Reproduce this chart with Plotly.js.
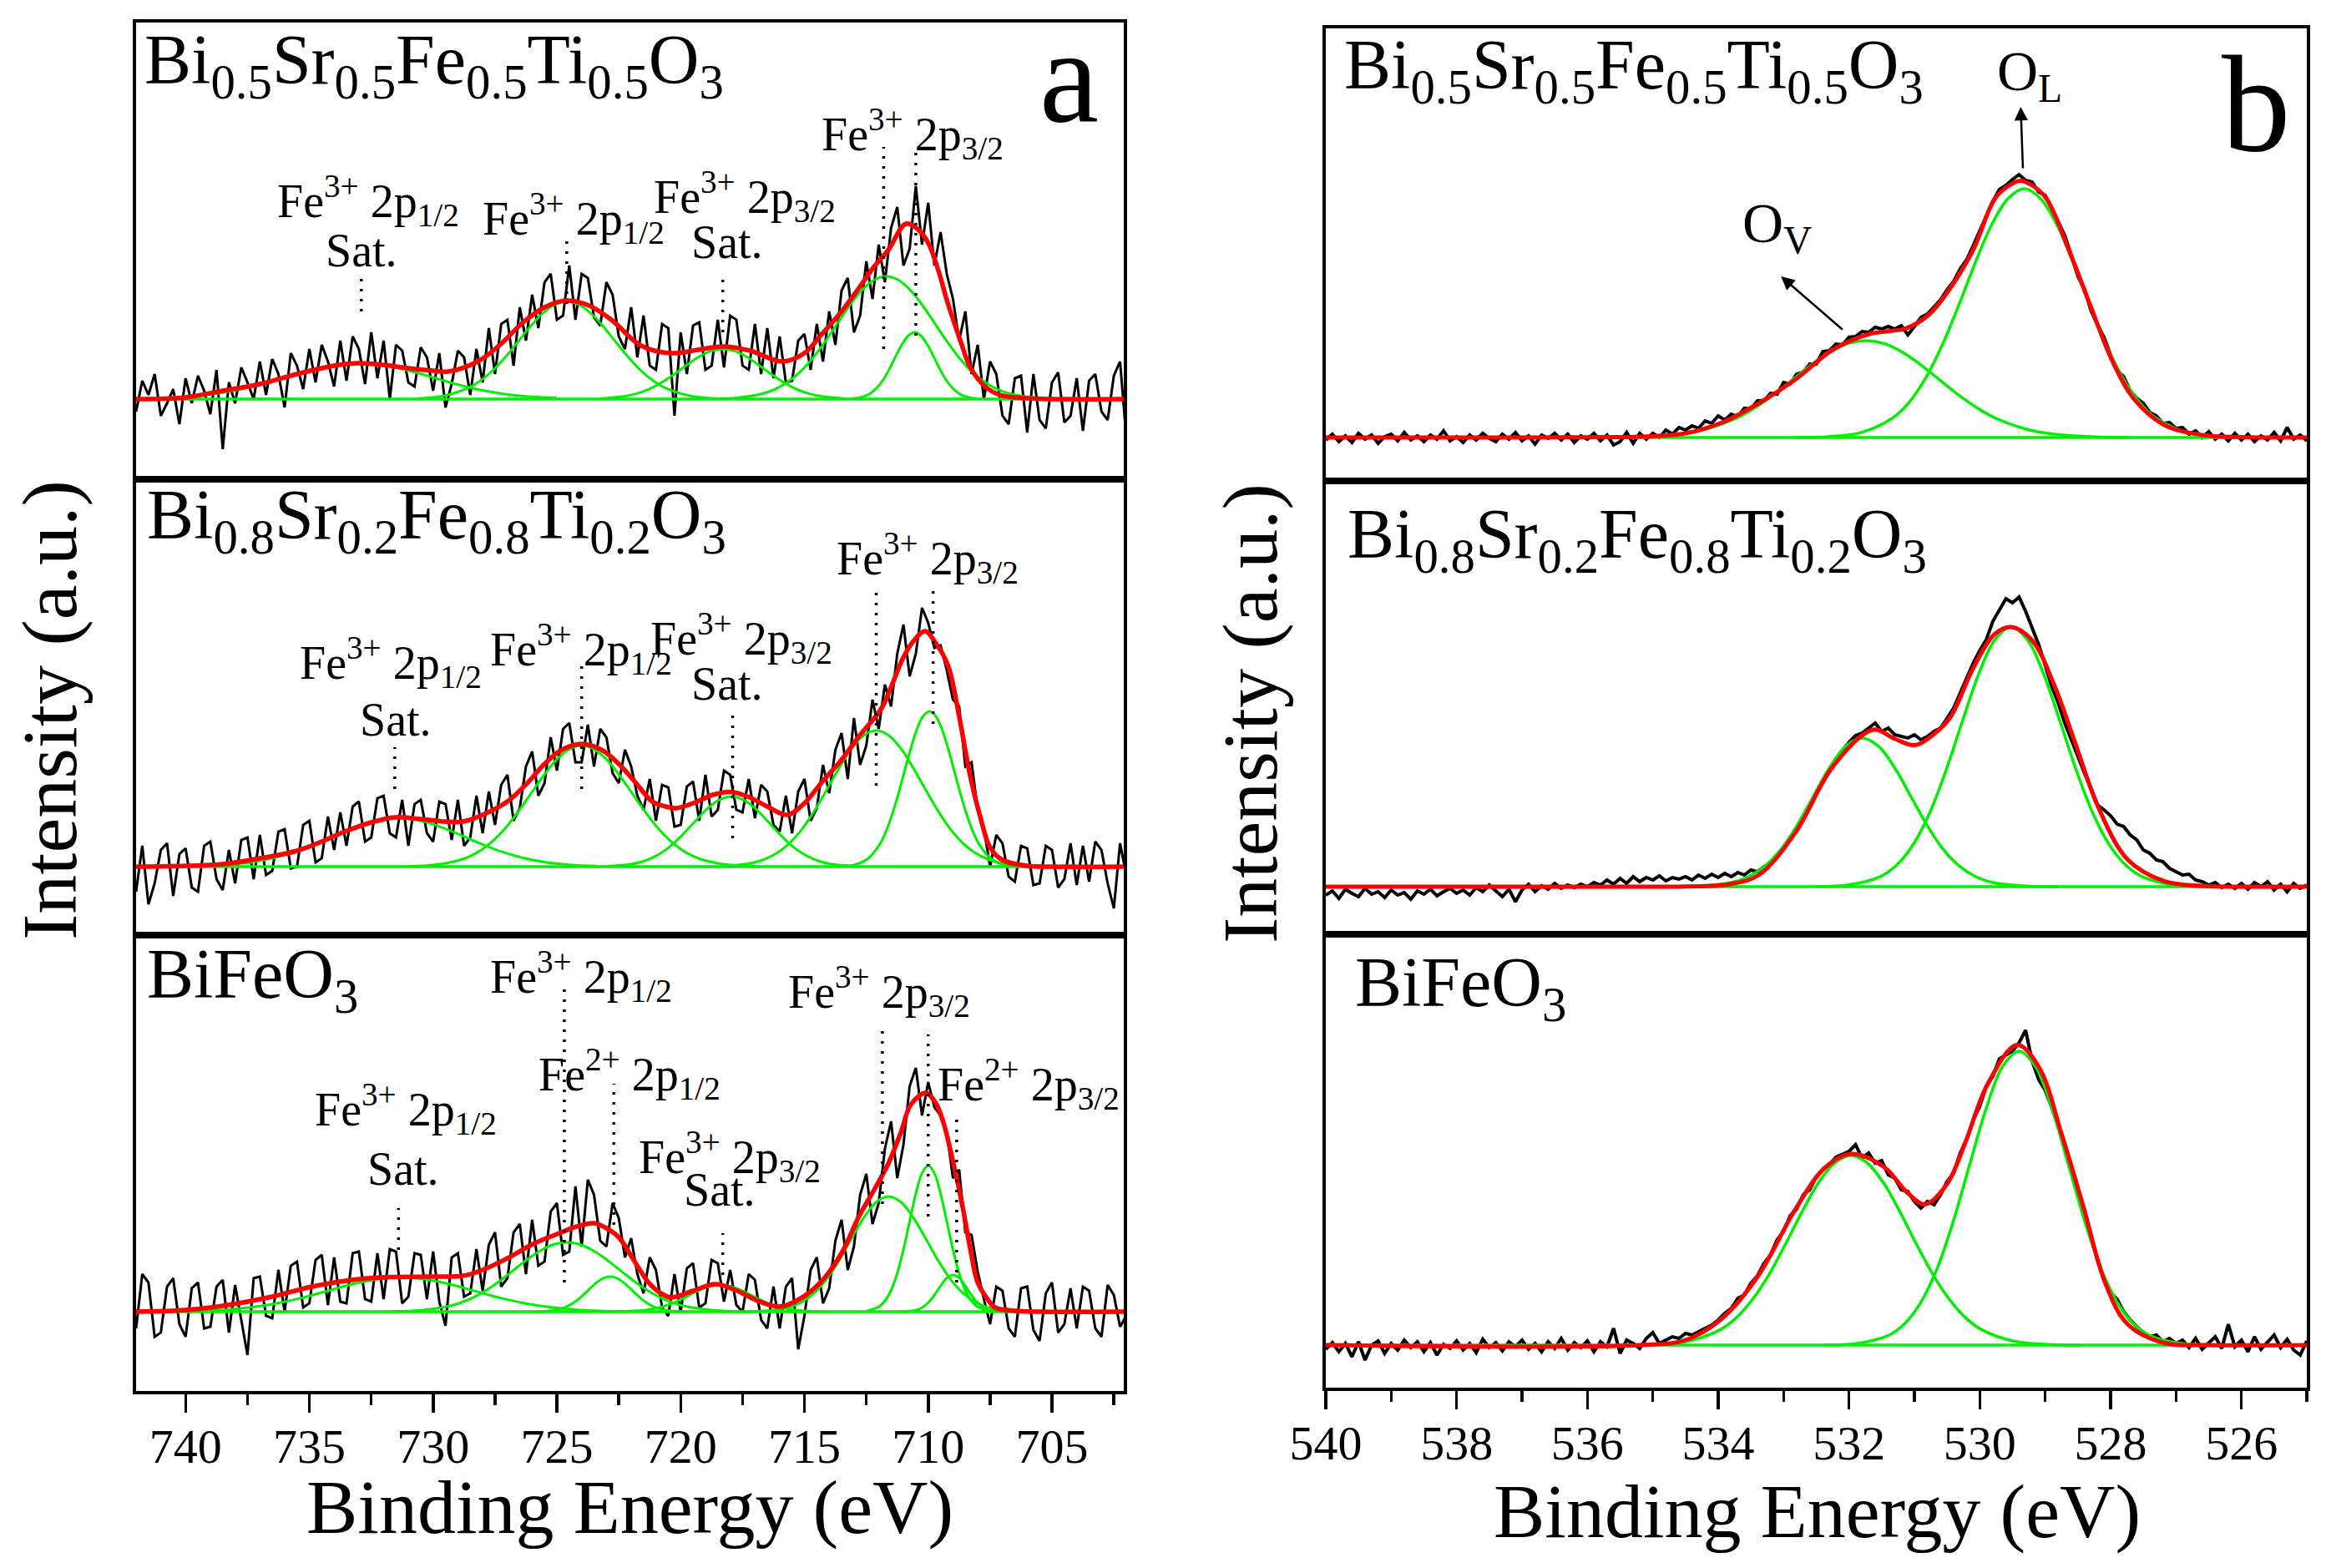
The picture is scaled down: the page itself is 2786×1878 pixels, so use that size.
<!DOCTYPE html>
<html>
<head>
<meta charset="utf-8">
<script src="https://cdn.plot.ly/plotly-3.0.1.min.js"></script>
<style>
  html, body { margin: 0; padding: 0; background: #fff; }
  #xpsPlot { width: 2786px; height: 1878px; }
</style>
</head>
<body>
<div id="xpsPlot"></div>
<script>
// ---- energy grids (eV) ----
var feStart = 742, feStep = 0.25, feCount = 161;   // Fe 2p scans
var oStart = 540, oStep = 0.1, oCount = 151;       // O 1s scans

// ---- Fe 2p, Bi0.5Sr0.5Fe0.5Ti0.5O3 (panel a, top) ----
var fe55_raw = [
  -15, 22, 5, 30, -20, -5, 12, -30,
  25, -5, 28, 10, -18, 35, -60, 20,
  -5, 38, 20, 0, 45, 5, 48, 30,
  -10, 55, 40, 12, 60, 20, 65, 45,
  15, 70, 22, 75, 60, 18, 80, 25,
  70, 0, 65, 58, 20, 15, 62, 50,
  10, 55, -10, 18, 58, 50, 5, 60,
  20, 85, 30, 90, 95, 40, 110, 70,
  125, 85, 140, 150, 95, 100, 160, 95,
  150, 145, 98, 88, 140, 125, 75, 60,
  110, 50, 100, 40, 35, 90, 85, -20,
  80, 30, 88, 92, 35, 40, 95, 38,
  100, 95, 40, 35, 90, 30, 85, 25,
  75, 20, 22, 70, 78, 35, 90, 45,
  105, 65, 130, 145, 80, 100, 165, 120,
  185, 140, 205, 230, 160, 180, 255, 185,
  235, 160, 200, 150, 120, 70, 105, 30,
  65, 0, 45, 30, -20, -30, 25, 28,
  -40, 30, -25, -35, 20, 32, -28, -20,
  25, -38, 22, 30, -15, -25, 28, 45,
  -45
];
var fe55_fit_x = [742, 740, 738.5, 737, 735.5, 734, 733, 732, 731, 730, 729.4, 728.2, 727.3, 726.4, 725.5, 724.6, 723.7, 722.8, 721.6, 720.4, 719.3, 718.3, 717.2, 715.9, 715, 714.35, 713.5, 712.8, 712.2, 711.6, 710.9, 710.4, 710.0, 709.6, 709.2, 708.7, 708.3, 707.7, 707.1, 706, 705, 702];
var fe55_fit_y = [0, 2, 10, 18, 30, 40, 43, 41, 37, 34, 33, 45, 65, 91, 110, 118, 112, 95, 64, 55, 59, 63, 58, 45, 55, 76, 105, 133, 158, 179, 210, 203, 187, 155, 114, 70, 38, 15, 5, 1, 0, 0];
var fe55_c1_x = [741, 740, 739, 738, 737, 736, 735, 734, 733, 732, 731, 730, 729, 728, 727, 726, 725];
var fe55_c1_y = [1.2, 2.7, 5.6, 10.5, 17.4, 25.9, 34.3, 40.6, 43, 40.6, 34.3, 25.9, 17.4, 10.5, 5.6, 2.7, 1.2];
var fe55_c2_x = [730.6, 729.6, 728.6, 728.1, 727.6, 727.1, 726.6, 726.1, 725.6, 725.1, 724.6, 724.1, 723.6, 723.1, 722.6, 722.1, 721.6, 721.1, 720.6, 719.6, 718.6];
var fe55_c2_y = [0.8, 3.8, 13.1, 21.8, 34, 49.7, 67.6, 86, 102, 113, 117, 113, 102, 86, 67.6, 49.7, 34, 21.8, 13.1, 3.8, 0.8];
var fe55_c3_x = [723.3, 722.3, 721.8, 721.3, 720.8, 720.3, 719.8, 719.3, 718.8, 718.3, 717.8, 717.3, 716.8, 716.3, 715.8, 715.3, 714.8, 714.3, 713.3];
var fe55_c3_y = [0.6, 3.2, 6.4, 11.6, 19.2, 28.9, 39.8, 50, 57.3, 60, 57.3, 50, 39.8, 28.9, 19.2, 11.6, 6.4, 3.2, 0.6];
var fe55_c4_x = [718.7, 717.7, 716.7, 716.2, 715.7, 715.2, 714.7, 714.2, 713.7, 713.2, 712.7, 712.2, 711.7, 711.2, 710.7, 710.2, 709.7, 709.2, 708.7, 708.2, 707.7, 707.2, 706.7, 705.7, 704.7];
var fe55_c4_y = [0.3, 1.6, 6.5, 11.7, 19.9, 31.8, 47.7, 67.3, 89.2, 111, 129.7, 142.5, 147, 142.5, 129.7, 111, 89.2, 67.3, 47.7, 31.8, 19.9, 11.7, 6.5, 1.6, 0.3];
var fe55_c5_x = [713.05, 712.55, 712.3, 712.05, 711.8, 711.55, 711.3, 711.05, 710.8, 710.55, 710.3, 710.05, 709.8, 709.55, 709.3, 709.05, 708.8, 708.55, 708.05];
var fe55_c5_y = [0.7, 3.7, 7.6, 14.2, 24, 37, 52, 66, 76, 80, 76, 66, 52, 37, 24, 14.2, 7.6, 3.7, 0.7];

// ---- Fe 2p, Bi0.8Sr0.2Fe0.8Ti0.2O3 (panel a, middle) ----
var fe82_raw = [
  -30, 25, -45, -20, 20, 28, -35, 15,
  22, -25, -30, 25, 30, -15, -28, 20,
  -20, 32, 35, -15, 38, -10, -5, 42,
  45, -2, 0, 50, 55, 5, 10, 60,
  20, 65, 25, 72, 78, 30, 35, 82,
  85, 40, 35, 80, 25, 75, 80, 40,
  30, 78, 75, 32, 80, 25, 35, 85,
  40, 90, 50, 98, 110, 55, 70, 120,
  138, 85, 100, 155, 115, 165, 172, 125,
  125, 170, 120, 165, 155, 112, 100, 140,
  120, 85, 68, 105, 55, 98, 95, 48,
  50, 96, 102, 55, 110, 60, 68, 115,
  110, 68, 65, 105, 58, 98, 90, 50,
  42, 85, 40, 90, 105, 55, 70, 122,
  88, 140, 160, 105, 178, 122, 145, 200,
  165, 218, 192, 255, 290, 228, 255, 310,
  292, 262, 265, 235, 200, 192, 120, 125,
  68, 45, 0, 38, 28, -12, -18, 25,
  22, -22, -20, 25, 20, -25, -15, 28,
  -22, 25, -18, 30, 20, -20, -50, 28,
  -10
];
var fe82_fit_x = [742, 740, 738.5, 737, 735.5, 734.5, 733.65, 732.5, 731.55, 730.5, 729.5, 728.8, 728, 727, 726.2, 725.5, 724.8, 724, 723.2, 722.5, 721.8, 721.15, 720.6, 720.2, 719.5, 718.7, 717.97, 717.3, 716.5, 715.7, 715, 714.3, 713.5, 712.8, 711.9, 711.5, 711.03, 710.6, 710.13, 709.7, 709.2, 708.75, 708.3, 707.9, 707.5, 707, 706, 705, 702];
var fe82_fit_y = [0, 1, 3, 10, 19, 30, 41, 53, 59, 57, 54, 54, 62, 78, 100, 123, 140, 147, 140, 123, 100, 78, 72, 70, 76, 86, 89.5, 84, 72, 62, 76, 101, 128, 156, 189, 215, 249, 270, 282, 268, 241, 180, 108, 60, 23, 8, 1, 0, 0];
var fe82_c1_x = [739.4, 738.4, 737.4, 736.4, 735.4, 734.4, 733.4, 732.4, 731.4, 730.4, 729.4, 728.4, 727.4, 726.4, 725.4, 724.4, 723.4];
var fe82_c1_y = [0.8, 2.1, 5.1, 10.7, 19.6, 31.5, 44.2, 54.2, 58, 54.2, 44.2, 31.5, 19.6, 10.7, 5.1, 2.1, 0.8];
var fe82_c2_x = [731, 730, 729, 728.5, 728, 727.5, 727, 726.5, 726, 725.5, 725, 724.5, 724, 723.5, 723, 722.5, 722, 721.5, 721, 720.5, 720, 719.5, 719, 718, 717];
var fe82_c2_y = [0.4, 1.9, 7.2, 12.6, 21.1, 33.2, 49, 68.3, 89.6, 110.5, 128.6, 140.7, 145, 140.7, 128.6, 110.5, 89.6, 68.3, 49, 33.2, 21.1, 12.6, 7.2, 1.9, 0.4];
var fe82_c3_x = [722.95, 721.95, 721.45, 720.95, 720.45, 719.95, 719.45, 718.95, 718.45, 717.95, 717.45, 716.95, 716.45, 715.95, 715.45, 714.95, 714.45, 713.95, 712.95];
var fe82_c3_y = [0.5, 3.3, 7, 13.6, 23.7, 37.4, 53.3, 68.6, 79.9, 84, 79.9, 68.6, 53.3, 37.4, 23.7, 13.6, 7, 3.3, 0.5];
var fe82_c4_x = [718.1, 717.1, 716.6, 716.1, 715.6, 715.1, 714.6, 714.1, 713.6, 713.1, 712.6, 712.1, 711.6, 711.1, 710.6, 710.1, 709.6, 709.1, 708.6, 708.1, 707.6, 707.1, 706.1];
var fe82_c4_y = [0.9, 4.5, 9, 16.5, 28.2, 44.9, 66.6, 91.9, 118.1, 141.3, 157.3, 163, 157.3, 141.3, 118.1, 91.9, 66.6, 44.9, 28.2, 16.5, 9, 4.5, 0.9];
var fe82_c5_x = [713.45, 712.95, 712.45, 711.95, 711.7, 711.45, 711.2, 710.95, 710.7, 710.45, 710.2, 709.95, 709.7, 709.45, 709.2, 708.95, 708.7, 708.45, 708.2, 707.95, 707.45, 706.95, 706.45];
var fe82_c5_y = [0.5, 2.4, 9.2, 27.1, 42.6, 63, 87.7, 115, 141.9, 165, 180.5, 186, 180.5, 165, 141.9, 115, 87.7, 63, 42.6, 27.1, 9.2, 2.4, 0.5];

// ---- Fe 2p, BiFeO3 (panel a, bottom) ----
var feBFO_raw = [
  -20, 45, 35, -30, -25, 30, 40, -15,
  -30, 28, 35, -20, -18, 30, 38, -25,
  32, -10, -52, 40, 42, -5, -8, 50,
  0, 55, 60, 5, 10, 62, 68, 8,
  65, 12, 10, 70, 72, 15, 12, 70,
  15, 75, 72, 10, 18, 70, 68, 15,
  72, 12, -17, 65, 70, 18, 22, 75,
  25, 80, 95, 30, 40, 95, 105, 45,
  110, 55, 60, 120, 130, 68, 72, 150,
  78, 158, 140, 85, 78, 130, 112, 65,
  88, 45, 22, 65, 50, 5, -5, 45,
  0, 52, 58, 5, 10, 62, 58, 12,
  50, 8, 0, 45, 38, -10, -20, 30,
  -20, 30, 40, -45, -5, 50, 65, 10,
  28, 85, 110, 50, 78, 140, 165, 105,
  130, 195, 228, 160, 200, 270, 292, 235,
  275, 245, 235, 215, 160, 170, 95, 92,
  48, 15, -15, 30, 25, -20, -30, 28,
  30, -22, -35, 22, 35, -25, -15, 28,
  -20, 30, 25, -20, -30, 32, 20, -18,
  -5
];
var feBFO_fit_x = [742, 740, 738.5, 736.5, 734.9, 733, 731.55, 730, 728.8, 728, 727, 725.9, 724.9, 724.2, 723.5, 723, 722.5, 721.9, 721.3, 720.8, 720.4, 719.5, 718.6, 717.8, 716.8, 716, 715.2, 714.35, 713.5, 712.8, 712.2, 711.6, 711.1, 710.7, 710.1, 709.7, 709.4, 709, 708.6, 708.3, 708, 707.6, 707.3, 706.5, 705.5, 702];
var feBFO_fit_y = [0, 2, 7, 18, 30, 39, 41.5, 42, 43, 50, 64, 82, 94, 102, 106, 100, 89, 62, 35, 22, 17, 25, 33, 26, 12, 6, 15, 35, 70, 114, 145, 178, 215, 248, 262, 250, 228, 180, 124, 75, 35, 15, 5, 1, 0, 0];
var feBFO_c1_x = [740.3, 739.3, 738.3, 737.3, 736.3, 735.3, 734.3, 733.3, 732.3, 731.3, 730.3, 729.3, 728.3, 727.3, 726.3, 725.3, 724.3, 723.3, 722.3];
var feBFO_c1_y = [0.4, 1.1, 2.6, 5.4, 10, 16.6, 24.6, 32.7, 38.7, 41, 38.7, 32.7, 24.6, 16.6, 10, 5.4, 2.6, 1.1, 0.4];
var feBFO_c2_x = [731.6, 730.6, 729.6, 729.1, 728.6, 728.1, 727.6, 727.1, 726.6, 726.1, 725.6, 725.1, 724.6, 724.1, 723.6, 723.1, 722.6, 722.1, 721.6, 721.1, 720.6, 720.1, 719.6, 718.6, 717.6];
var feBFO_c2_y = [0.4, 1.5, 5.2, 8.7, 14, 21.3, 30.5, 41.5, 53.2, 64.7, 74.3, 80.7, 83, 80.7, 74.3, 64.7, 53.2, 41.5, 30.5, 21.3, 14, 8.7, 5.2, 1.5, 0.4];
var feBFO_c3_x = [725.85, 725.35, 724.85, 724.6, 724.35, 724.1, 723.85, 723.6, 723.35, 723.1, 722.85, 722.6, 722.35, 722.1, 721.85, 721.6, 721.35, 721.1, 720.85, 720.35, 719.85];
var feBFO_c3_y = [0.1, 0.8, 3.4, 6.1, 10.2, 15.7, 22.4, 29.5, 35.9, 40.4, 42, 40.4, 35.9, 29.5, 22.4, 15.7, 10.2, 6.1, 3.4, 0.8, 0.1];
var feBFO_c4_x = [722.4, 721.4, 720.9, 720.4, 719.9, 719.4, 718.9, 718.4, 717.9, 717.4, 716.9, 716.4, 715.9, 715.4, 714.4];
var feBFO_c4_y = [0.2, 2, 4.7, 9.3, 16, 23.5, 29.6, 32, 29.6, 23.5, 16, 9.3, 4.7, 2, 0.2];
var feBFO_c5_x = [717.6, 716.6, 715.6, 715.1, 714.6, 714.1, 713.6, 713.1, 712.6, 712.1, 711.6, 711.1, 710.6, 710.1, 709.6, 709.1, 708.6, 708.1, 707.6, 706.6, 705.6];
var feBFO_c5_y = [0.1, 0.9, 5.4, 11.6, 22.4, 38.9, 61.4, 87.5, 112.7, 131.2, 138, 131.2, 112.7, 87.5, 61.4, 38.9, 22.4, 11.6, 5.4, 0.9, 0.1];
var feBFO_c6_x = [712.5, 712, 711.75, 711.5, 711.25, 711, 710.75, 710.5, 710.25, 710, 709.75, 709.5, 709.25, 709, 708.75, 708.5, 708.25, 708, 707.5];
var feBFO_c6_y = [0.8, 5.7, 12.7, 25.5, 45.9, 74.4, 108.1, 141.3, 165.9, 175, 165.9, 141.3, 108.1, 74.4, 45.9, 25.5, 12.7, 5.7, 0.8];
var feBFO_c7_x = [711, 710.5, 710.25, 710, 709.75, 709.5, 709.25, 709, 708.75, 708.5, 708.25, 708, 707.75, 707.5, 707];
var feBFO_c7_y = [0.2, 1.8, 4.8, 10.7, 19.9, 30.9, 40.3, 44, 40.3, 30.9, 19.9, 10.7, 4.8, 1.8, 0.2];

// ---- O 1s, Bi0.5Sr0.5Fe0.5Ti0.5O3 (panel b, top) ----
var o55_raw = [
  -3, 4, -5, 2, -6, 5, -2, 3, -7, 1,
  4, -4, 6, -3, 2, -5, 3, -2, 8, -4,
  1, -6, 3, -3, 5, -1, -5, 4, -2, 6,
  -4, 2, -8, 3, -1, 5, -3, 4, -6, 2,
  -2, 5, -4, 3, -9, -5, 6, -7, 5, -2,
  5, 0, 9, 4, 12, 9, 14, 11, 20, 17,
  26, 21, 28, 25, 35, 34, 44, 44, 53, 52,
  66, 64, 76, 78, 88, 88, 103, 104, 112, 111,
  120, 121, 127, 126, 132, 130, 133, 130, 134, 123,
  133, 144, 148, 157, 165, 177, 187, 202, 213, 230,
  247, 265, 283, 297, 302, 309, 315, 308, 306, 294,
  290, 274, 259, 242, 218, 193, 178, 152, 135, 120,
  99, 80, 73, 56, 47, 41, 30, 26, 17, 18,
  11, 12, 4, 8, 0, 7, -2, 4, -4, 5,
  -3, 4, -5, 2, -3, 6, -4, 12, -2, 3,
  -4
];
var o55_fit_x = [540, 537, 535.5, 535, 534.5, 533.94, 533.38, 532.81, 532.25, 531.69, 531.12, 530.78, 530.45, 530.1, 529.77, 529.55, 529.38, 529.2, 528.98, 528.64, 528.3, 527.97, 527.63, 527.18, 526.6, 526, 525];
var o55_fit_y = [0, 0, 0.5, 1.5, 5, 18, 41, 70, 105, 124, 131, 147, 179, 225, 286, 302, 307.5, 302, 286, 225, 156, 91, 45, 15, 3, 0.5, 0];
var o55_ov_x = [535.74, 535.24, 534.74, 534.24, 533.74, 533.49, 533.24, 532.99, 532.74, 532.49, 532.24, 531.99, 531.74, 531.49, 531.24, 530.99, 530.74, 530.49, 530.24, 529.99, 529.74, 529.24, 528.74, 528.24, 527.74];
var o55_ov_y = [0.2, 0.8, 2.9, 9, 22.5, 33, 46.1, 61.1, 77, 92.1, 104.7, 113.1, 116, 113.1, 104.7, 92.1, 77, 61.1, 46.1, 33, 22.5, 9, 2.9, 0.8, 0.2];
var o55_ol_x = [532.82, 532.32, 531.82, 531.32, 531.07, 530.82, 530.57, 530.32, 530.07, 529.82, 529.57, 529.32, 529.07, 528.82, 528.57, 528.32, 528.07, 527.82, 527.57, 527.32, 526.82, 526.32, 525.82];
var o55_ol_y = [0.1, 1, 5.9, 24.1, 43.2, 72.4, 111.5, 158.8, 209.2, 254.5, 286, 298, 286, 254.5, 209.2, 158.8, 111.5, 72.4, 43.2, 24.1, 5.9, 1, 0.1];

// ---- O 1s, Bi0.8Sr0.2Fe0.8Ti0.2O3 (panel b, middle) ----
var o82_raw = [
  -10, -5, -14, -3, -8, -12, -2, -9, -6, -13,
  -4, -10, -7, -15, -5, -9, -3, -11, -6, -2,
  -8, -4, -10, -1, -6, 2, -5, -12, -3, -18,
  -4, 3, -6, 1, -3, 4, -2, 2, -1, 3,
  0, 5, 2, 8, 3, 10, 4, 12, 6, 11,
  8, 13, 7, 11, 9, 12, 8, 14, 10, 15,
  11, 16, 12, 17, 14, 20, 18, 24, 28, 36,
  45, 56, 70, 82, 96, 110, 124, 138, 152, 163,
  173, 181, 184, 190, 196, 186, 190, 182, 180, 178,
  182, 176, 180, 186, 190, 202, 214, 232, 250, 268,
  283, 296, 318, 332, 345, 340, 347, 330, 310, 290,
  265, 240, 220, 196, 176, 155, 136, 118, 98, 92,
  85, 75, 72, 62, 56, 44, 40, 32, 30, 22,
  18, 14, 15, 8, 6, 2, 5, -1, 3, -2,
  4, -3, 5, 0, 6, -4, 3, -6, 4, -2,
  2
];
var o82_fit_x = [540, 535, 534.5, 533.83, 533.38, 532.81, 532.25, 531.63, 531.3, 530.99, 530.7, 530.45, 530.1, 529.77, 529.52, 529.2, 528.87, 528.53, 528.19, 527.74, 527.18, 526.6, 526, 525];
var o82_fit_y = [0, 0, 0.3, 3, 14, 66, 143.6, 188, 177, 169.5, 183, 203, 262, 302.7, 311, 295, 243, 169.5, 95.5, 32.6, 6.7, 1, 0, 0];
var o82_ov_x = [534.8, 534.3, 533.8, 533.55, 533.3, 533.05, 532.8, 532.55, 532.3, 532.05, 531.8, 531.55, 531.3, 531.05, 530.8, 530.55, 530.3, 530.05, 529.8, 529.3, 528.8];
var o82_ov_y = [0.1, 0.7, 5, 11.5, 23.8, 43.9, 72.7, 107.5, 142.3, 168.4, 178, 168.4, 142.3, 107.5, 72.7, 43.9, 23.8, 11.5, 5, 0.7, 0.1];
var o82_ol_x = [532.52, 532.02, 531.52, 531.27, 531.02, 530.77, 530.52, 530.27, 530.02, 529.77, 529.52, 529.27, 529.02, 528.77, 528.52, 528.27, 528.02, 527.77, 527.52, 527.02, 526.52];
var o82_ol_y = [0.2, 2, 12.2, 26, 50.2, 87.7, 138.4, 197.2, 254, 295.7, 311, 295.7, 254, 197.2, 138.4, 87.7, 50.2, 26, 12.2, 2, 0.2];

// ---- O 1s, BiFeO3 (panel b, bottom) ----
var oBFO_raw = [
  -5, 3, -8, 2, -14, 4, -18, 0, 5, -10,
  2, -6, 6, -3, 4, -8, 3, -12, 1, -4,
  5, -6, 2, -9, 7, -3, 3, -7, 4, -2,
  6, -5, 2, -8, 4, -4, 8, -6, 3, -3,
  5, -8, 4, -2, 20, -10, 6, 2, -4, 8,
  15, 2, 6, 10, 8, 14, 12, 16, 20, 24,
  30, 38, 44, 56, 60, 74, 83, 98, 108, 126,
  136, 155, 163, 180, 186, 202, 210, 216, 225, 228,
  232, 240, 224, 230, 218, 221, 204, 200, 186, 184,
  172, 164, 172, 168, 180, 196, 206, 230, 246, 270,
  286, 310, 322, 343, 348, 352, 362, 377, 340, 318,
  305, 285, 262, 236, 210, 180, 160, 128, 104, 78,
  62, 55, 40, 30, 22, 15, 10, 12, 4, 8,
  2, 6, -3, 8, -5, 3, 10, -4, 25, -2,
  6, -8, 10, -5, 3, 12, -3, 7, -6, -12,
  5
];
var oBFO_fit_x = [540, 535.2, 534.5, 533.94, 533.38, 532.81, 532.36, 531.97, 531.46, 531.12, 530.84, 530.5, 530.22, 529.88, 529.43, 529.09, 528.75, 528.41, 528.08, 527.74, 527.18, 526.5, 525];
var oBFO_fit_y = [0, 0, 6, 32, 84, 164, 213, 229, 213, 183.5, 168.6, 193, 243, 312.5, 359.6, 332, 253, 164, 74, 25, 2.5, 0, 0];
var oBFO_ov_x = [535.47, 534.97, 534.47, 533.97, 533.72, 533.47, 533.22, 532.97, 532.72, 532.47, 532.22, 531.97, 531.72, 531.47, 531.22, 530.97, 530.72, 530.47, 530.22, 529.97, 529.47, 528.97, 528.47];
var oBFO_ov_y = [0.1, 0.8, 4.5, 18.4, 32.9, 55.2, 84.9, 121, 159.4, 193.9, 218, 227, 218, 193.9, 159.4, 121, 84.9, 55.2, 32.9, 18.4, 4.5, 0.8, 0.1];
var oBFO_ol_x = [532.4, 531.9, 531.4, 531.15, 530.9, 530.65, 530.4, 530.15, 529.9, 529.65, 529.4, 529.15, 528.9, 528.65, 528.4, 528.15, 527.9, 527.65, 527.4, 526.9, 526.4];
var oBFO_ol_y = [0.2, 1.7, 11.5, 25.6, 51.4, 92.2, 149.6, 217.5, 284, 333.7, 352, 333.7, 284, 217.5, 149.6, 92.2, 51.4, 25.6, 11.5, 1.7, 0.2];

// ---- baselines ----
var feBase_x = [742, 702];
var oBase_x = [540, 525];
var base_y = [0, 0];

// ---- dotted peak markers (eV, lower / upper end) ----
var fe55_mark_E = [732.9, 724.6, 718.3, 711.8, 710.5];
var fe55_mark_lo = [105, 114, 80, 60, 76];
var fe55_mark_hi = [152, 189, 149, 302, 298];
var fe82_mark_E = [731.55, 724.0, 717.9, 712.1, 709.8];
var fe82_mark_lo = [93, 93, 34, 97, 171];
var fe82_mark_hi = [143, 241, 186, 334, 337];
var feBFO_mark_E = [731.4, 724.7, 722.7, 718.3, 711.85, 710.0, 708.85];
var feBFO_mark_lo = [74, 35, 104, 44, 129, 114, 35];
var feBFO_mark_hi = [124, 387, 273, 94, 342, 332, 238];

var W = 2786, H = 1878;
var FONT = "Liberation Serif";
var GREEN = "#00ee00";
var RED = "#ff0000";

var grid = function (start, step, n) {
  let out = [];
  for (let i = 0; i < n; i++) out.push(+(start - i * step).toFixed(3));
  return out;
};

var curve = function (x, y, xa, ya, color, width, smooth) {
  return {
    type: "scatter",
    mode: "lines",
    x: x,
    y: y,
    xaxis: xa,
    yaxis: ya,
    hoverinfo: "skip",
    showlegend: false,
    line: { color: color, width: width, shape: smooth ? "spline" : "linear", smoothing: 1 },
  };
};

var txt = function (left, base, size, text) {
  return {
    xref: "paper",
    yref: "paper",
    x: left / W,
    y: 1 - (base - 0.35 * size) / H,
    xanchor: "left",
    yanchor: "middle",
    text: text,
    showarrow: false,
    font: { family: FONT, size: size, color: "#000" },
  };
};

var cb_xpsPlot = function () {
  let feE = grid(feStart, feStep, feCount);
  let oE = grid(oStart, oStep, oCount);
  let data = [];

  // panel a
  data.push(curve(feE, fe55_raw, "x", "y", "#000", 3, false));
  data.push(curve(feBase_x, base_y, "x", "y", GREEN, 3.5, false));
  [[fe55_c1_x, fe55_c1_y], [fe55_c2_x, fe55_c2_y], [fe55_c3_x, fe55_c3_y], [fe55_c4_x, fe55_c4_y], [fe55_c5_x, fe55_c5_y]]
    .forEach(function (c) { data.push(curve(c[0], c[1], "x", "y", GREEN, 3, true)); });
  data.push(curve(fe55_fit_x, fe55_fit_y, "x", "y", RED, 5.5, true));

  data.push(curve(feE, fe82_raw, "x2", "y2", "#000", 3, false));
  data.push(curve(feBase_x, base_y, "x2", "y2", GREEN, 3.5, false));
  [[fe82_c1_x, fe82_c1_y], [fe82_c2_x, fe82_c2_y], [fe82_c3_x, fe82_c3_y], [fe82_c4_x, fe82_c4_y], [fe82_c5_x, fe82_c5_y]]
    .forEach(function (c) { data.push(curve(c[0], c[1], "x2", "y2", GREEN, 3, true)); });
  data.push(curve(fe82_fit_x, fe82_fit_y, "x2", "y2", RED, 5.5, true));

  data.push(curve(feE, feBFO_raw, "x3", "y3", "#000", 3, false));
  data.push(curve(feBase_x, base_y, "x3", "y3", GREEN, 3.5, false));
  [[feBFO_c1_x, feBFO_c1_y], [feBFO_c2_x, feBFO_c2_y], [feBFO_c3_x, feBFO_c3_y], [feBFO_c4_x, feBFO_c4_y],
   [feBFO_c5_x, feBFO_c5_y], [feBFO_c6_x, feBFO_c6_y], [feBFO_c7_x, feBFO_c7_y]]
    .forEach(function (c) { data.push(curve(c[0], c[1], "x3", "y3", GREEN, 3, true)); });
  data.push(curve(feBFO_fit_x, feBFO_fit_y, "x3", "y3", RED, 5.5, true));

  // panel b
  data.push(curve(oE, o55_raw, "x4", "y4", "#000", 4, false));
  data.push(curve(oBase_x, base_y, "x4", "y4", GREEN, 3.5, false));
  data.push(curve(o55_ov_x, o55_ov_y, "x4", "y4", GREEN, 3.5, true));
  data.push(curve(o55_ol_x, o55_ol_y, "x4", "y4", GREEN, 3.5, true));
  data.push(curve(o55_fit_x, o55_fit_y, "x4", "y4", RED, 5, true));

  data.push(curve(oE, o82_raw, "x5", "y5", "#000", 4, false));
  data.push(curve(oBase_x, base_y, "x5", "y5", GREEN, 3.5, false));
  data.push(curve(o82_ov_x, o82_ov_y, "x5", "y5", GREEN, 3.5, true));
  data.push(curve(o82_ol_x, o82_ol_y, "x5", "y5", GREEN, 3.5, true));
  data.push(curve(o82_fit_x, o82_fit_y, "x5", "y5", RED, 5, true));

  data.push(curve(oE, oBFO_raw, "x6", "y6", "#000", 4, false));
  data.push(curve(oBase_x, base_y, "x6", "y6", GREEN, 3.5, false));
  data.push(curve(oBFO_ov_x, oBFO_ov_y, "x6", "y6", GREEN, 3.5, true));
  data.push(curve(oBFO_ol_x, oBFO_ol_y, "x6", "y6", GREEN, 3.5, true));
  data.push(curve(oBFO_fit_x, oBFO_fit_y, "x6", "y6", RED, 5, true));

  // axes
  let frame = {
    showline: true, mirror: true, linecolor: "#000", linewidth: 4,
    showgrid: false, zeroline: false, ticks: "", showticklabels: false, fixedrange: true,
  };
  let bottomTicks = {
    ticks: "outside", ticklen: 22, tickwidth: 3.5, tickcolor: "#000", showticklabels: true,
    tickfont: { family: FONT, size: 58, color: "#000" }, tick0: 0, ticklabelstandoff: -10,
  };
  let dA = [163 / W, 1346 / W];
  let dB = [1588 / W, 2763 / W];
  let feRange = [742, 702.1];
  let oRange = [540, 525];

  let layout = {
    width: W,
    height: H,
    margin: { l: 0, r: 0, t: 0, b: 0, pad: 0 },
    paper_bgcolor: "#fff",
    plot_bgcolor: "rgba(0,0,0,0)",
    showlegend: false,
    font: { family: FONT, color: "#000" },

    xaxis: Object.assign({}, frame, { domain: dA, range: feRange, anchor: "y" }),
    yaxis: Object.assign({}, frame, { domain: [1 - 574 / H, 1 - 27 / H], range: [-96, 451], anchor: "x" }),
    xaxis2: Object.assign({}, frame, { domain: dA, range: feRange, anchor: "y2" }),
    yaxis2: Object.assign({}, frame, { domain: [1 - 1120 / H, 1 - 574 / H], range: [-82, 464], anchor: "x2" }),
    xaxis3: Object.assign({}, frame, bottomTicks, {
      domain: dA, range: feRange, anchor: "y3", dtick: 5,
      minor: { dtick: 2.5, ticks: "outside", ticklen: 13, tickwidth: 3.5, tickcolor: "#000" },
    }),
    yaxis3: Object.assign({}, frame, { domain: [1 - 1666 / H, 1 - 1120 / H], range: [-95, 451], anchor: "x3" }),

    xaxis4: Object.assign({}, frame, { domain: dB, range: oRange, anchor: "y4" }),
    yaxis4: Object.assign({}, frame, { domain: [1 - 576 / H, 1 - 34 / H], range: [-52, 490], anchor: "x4" }),
    xaxis5: Object.assign({}, frame, { domain: dB, range: oRange, anchor: "y5" }),
    yaxis5: Object.assign({}, frame, { domain: [1 - 1119 / H, 1 - 576 / H], range: [-57, 486], anchor: "x5" }),
    xaxis6: Object.assign({}, frame, bottomTicks, {
      domain: dB, range: oRange, anchor: "y6", dtick: 2,
      minor: { dtick: 1, ticks: "outside", ticklen: 13, tickwidth: 3.5, tickcolor: "#000" },
    }),
    yaxis6: Object.assign({}, frame, { domain: [1 - 1662 / H, 1 - 1119 / H], range: [-51, 492], anchor: "x6" }),
  };

  // dotted peak markers
  let shapes = [];
  let addMarks = function (E, lo, hi, xa, ya) {
    for (let i = 0; i < E.length; i++) {
      shapes.push({
        type: "line", xref: xa, yref: ya, x0: E[i], x1: E[i], y0: lo[i], y1: hi[i],
        line: { color: "#000", width: 3.5, dash: "3px,9px" },
      });
    }
  };
  addMarks(fe55_mark_E, fe55_mark_lo, fe55_mark_hi, "x", "y");
  addMarks(fe82_mark_E, fe82_mark_lo, fe82_mark_hi, "x2", "y2");
  addMarks(feBFO_mark_E, feBFO_mark_lo, feBFO_mark_hi, "x3", "y3");
  layout.shapes = shapes;

  let f3p12 = "Fe<sup>3+</sup> 2p<sub>1/2</sub>";
  let f3p32 = "Fe<sup>3+</sup> 2p<sub>3/2</sub>";
  let f2p12 = "Fe<sup>2+</sup> 2p<sub>1/2</sub>";
  let f2p32 = "Fe<sup>2+</sup> 2p<sub>3/2</sub>";
  let bsft55 = "Bi<sub>0.5</sub>Sr<sub>0.5</sub>Fe<sub>0.5</sub>Ti<sub>0.5</sub>O<sub>3</sub>";
  let bsft82 = "Bi<sub>0.8</sub>Sr<sub>0.2</sub>Fe<sub>0.8</sub>Ti<sub>0.2</sub>O<sub>3</sub>";
  let bfo = "BiFeO<sub>3</sub>";

  let ann = [
    // panel a, top
    txt(171, 107, 84, bsft55),
    txt(330, 260, 56, f3p12),
    txt(388, 320, 56, "Sat."),
    txt(576, 281, 56, f3p12),
    txt(781, 255, 56, f3p32),
    txt(826, 310, 56, "Sat."),
    txt(982, 180, 56, f3p32),
    // panel a, middle
    txt(174, 652, 84, bsft82),
    txt(357, 813, 56, f3p12),
    txt(429, 882, 56, "Sat."),
    txt(585, 797, 56, f3p12),
    txt(777, 784, 56, f3p32),
    txt(826, 839, 56, "Sat."),
    txt(1000, 688, 56, f3p32),
    // panel a, bottom
    txt(174, 1202, 84, bfo),
    txt(585, 1189, 56, f3p12),
    txt(643, 1306, 56, f2p12),
    txt(375, 1348, 56, f3p12),
    txt(438, 1420, 56, "Sat."),
    txt(763, 1405, 56, f3p32),
    txt(817, 1445, 56, "Sat."),
    txt(942, 1207, 56, f3p32),
    txt(1121, 1318, 56, f2p32),
    // panel b
    txt(1608, 113, 84, bsft55),
    txt(1612, 675, 84, bsft82),
    txt(1621, 1212, 84, bfo),
    txt(2085, 295, 68, "O<sub>V</sub>"),
    txt(2390, 113, 68, "O<sub>L</sub>"),
  ];

  // panel letters
  ann.push({ xref: "paper", yref: "paper", x: 1280 / W, y: 1 - (147 - 0.35 * 160) / H, xanchor: "center", yanchor: "middle",
    text: "a", showarrow: false, font: { family: FONT, size: 160, color: "#000" } });
  ann.push({ xref: "paper", yref: "paper", x: 2702 / W, y: 1 - (182 - 0.35 * 165) / H, xanchor: "center", yanchor: "middle",
    text: "b", showarrow: false, font: { family: FONT, size: 165, color: "#000" } });

  // arrows to O_V and O_L
  ann.push({ xref: "x4", yref: "y4", axref: "x4", ayref: "y4", x: 533.04, y: 193, ax: 532.08, ay: 128,
    text: "", showarrow: true, arrowhead: 2, arrowsize: 1.3, arrowwidth: 2.5, arrowcolor: "#000" });
  ann.push({ xref: "x4", yref: "y4", axref: "x4", ayref: "y4", x: 529.375, y: 396, ax: 529.34, ay: 321,
    text: "", showarrow: true, arrowhead: 2, arrowsize: 1.3, arrowwidth: 2.5, arrowcolor: "#000" });

  // axis titles
  [[754.5, 1836], [2176, 1841]].forEach(function (p) {
    ann.push({ xref: "paper", yref: "paper", x: p[0] / W, y: 1 - (p[1] - 0.3375 * 92) / H, xanchor: "center", yanchor: "middle",
      text: "Binding Energy (eV)", showarrow: false, font: { family: FONT, size: 92, color: "#000" } });
  });
  [[59, 851], [1497, 855]].forEach(function (p) {
    ann.push({ xref: "paper", yref: "paper", x: p[0] / W, y: 1 - p[1] / H, xanchor: "center", yanchor: "middle",
      textangle: -90, text: "Intensity (a.u.)", showarrow: false, font: { family: FONT, size: 94, color: "#000" } });
  });
  layout.annotations = ann;

  let config = { responsive: false, displayModeBar: false, staticPlot: true };

  Plotly.newPlot("xpsPlot", data, layout, config);
};

cb_xpsPlot();
</script>
</body>
</html>
